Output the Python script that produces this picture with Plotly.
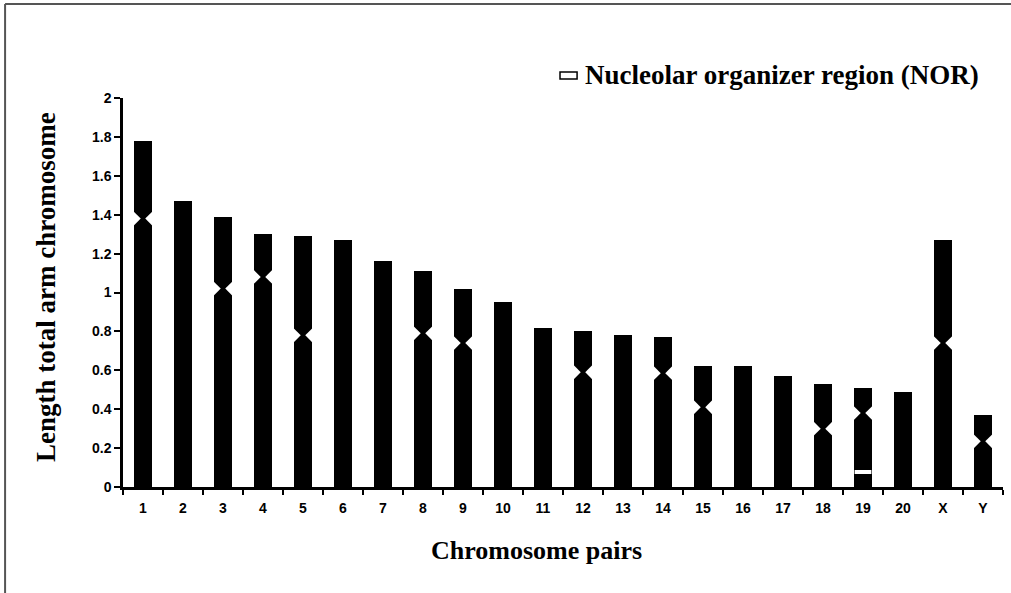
import plotly.graph_objects as go

# ---- data ----
chromosomes = ["1", "2", "3", "4", "5", "6", "7", "8", "9", "10", "11",
               "12", "13", "14", "15", "16", "17", "18", "19", "20", "X", "Y"]
total_length = [1.78, 1.47, 1.39, 1.30, 1.29, 1.27, 1.16, 1.11, 1.02, 0.95, 0.82,
                0.80, 0.78, 0.77, 0.62, 0.62, 0.57, 0.53, 0.51, 0.49, 1.27, 0.37]
centromere = [1.38, None, 1.02, 1.08, 0.78, None, None, 0.79, 0.74, None, None,
              0.59, None, 0.585, 0.41, None, None, 0.30, 0.38, None, 0.74, 0.235]
nor_chromosome = ["19"]
nor_position = [0.077]
y_ticks = [0, 0.2, 0.4, 0.6, 0.8, 1, 1.2, 1.4, 1.6, 1.8, 2]
y_tick_labels = ["0", "0.2", "0.4", "0.6", "0.8", "1", "1.2", "1.4", "1.6", "1.8", "2"]

BAR_W = 0.47
idx = {c: i for i, c in enumerate(chromosomes)}

fig = go.Figure()
fig.add_trace(go.Bar(x=chromosomes, y=total_length, width=BAR_W,
                     marker=dict(color="black", line=dict(width=0)),
                     showlegend=False, hoverinfo="x+y"))

# centromere constrictions: white notches on both sides of each bar
nx, ny = [], []
for i, c in enumerate(centromere):
    if c is None:
        continue
    nx += [i - BAR_W / 2, i + BAR_W / 2]
    ny += [c, c]
fig.add_trace(go.Scatter(x=nx, y=ny, xaxis="x2", mode="markers",
                         marker=dict(symbol="diamond", size=11, color="white",
                                     line=dict(width=0)),
                         showlegend=False, hoverinfo="skip"))

# NOR band
fig.add_trace(go.Scatter(x=[idx[c] for c in nor_chromosome], y=nor_position, xaxis="x2",
                         mode="markers",
                         marker=dict(symbol="line-ew", size=12,
                                     line=dict(color="white", width=4)),
                         showlegend=False, hoverinfo="skip"))

tickfont = dict(family="Liberation Sans, Arial, sans-serif", size=14, color="black",
                weight="bold")
serif_b = dict(family="Liberation Serif, Times New Roman, serif", color="black",
               weight="bold")

fig.update_layout(
    width=1011, height=593,
    margin=dict(l=123, r=8, t=98, b=106),
    paper_bgcolor="white", plot_bgcolor="white",
    bargap=0,
    xaxis=dict(type="category", range=[-0.5, 21.5], showline=True, linecolor="black",
               linewidth=2.5, ticks="outside", tickson="boundaries", ticklen=5,
               tickwidth=2, tickcolor="black", showgrid=False, tickfont=tickfont,
               ticklabelstandoff=6, fixedrange=True),
    xaxis2=dict(overlaying="x", range=[-0.5, 21.5], visible=False, fixedrange=True),
    yaxis=dict(range=[0, 2], tickvals=y_ticks, ticktext=y_tick_labels, showline=True,
               linecolor="black", linewidth=2.5, ticks="outside", ticklen=6,
               tickwidth=2, tickcolor="black", showgrid=False, zeroline=False,
               tickfont=tickfont, fixedrange=True),
    annotations=[
        dict(text="Chromosome pairs", xref="paper", yref="paper", x=0.47, y=-0.162,
             xanchor="center", yanchor="middle", showarrow=False,
             font=dict(size=26, **serif_b)),
        dict(text="Length total arm chromosome", xref="paper", yref="paper",
             x=-0.0875, y=0.514, xanchor="center", yanchor="middle", textangle=-90,
             showarrow=False, font=dict(size=27, **serif_b)),
        dict(text="Nucleolar organizer region (NOR)", xref="paper", yref="paper",
             x=0.523, y=1.059, xanchor="left", yanchor="middle", showarrow=False,
             font=dict(size=27, **serif_b)),
    ],
    shapes=[
        dict(type="rect", xref="paper", yref="paper", x0=0.4966, x1=0.516,
             y0=1.049, y1=1.067, line=dict(color="black", width=1.5),
             fillcolor="white"),
        dict(type="line", xref="paper", yref="paper", x0=-0.134, x1=1.05,
             y0=1.2416, y1=1.2416, line=dict(color="#555555", width=2)),
        dict(type="line", xref="paper", yref="paper", x0=-0.134, x1=-0.134,
             y0=1.2416, y1=-0.3, line=dict(color="#555555", width=2)),
    ],
)

fig.write_html("out.html", config={"displayModeBar": False},
               post_script="document.body.style.margin='0';")
